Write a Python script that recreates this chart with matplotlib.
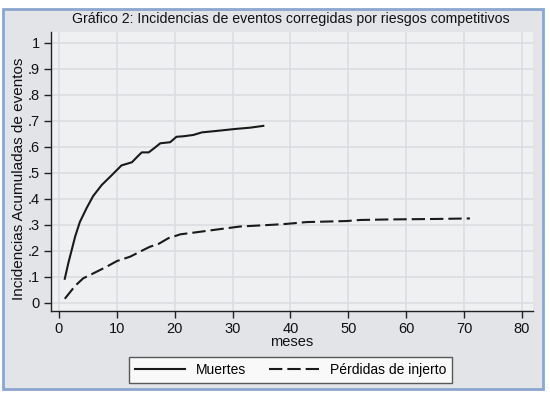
import matplotlib
matplotlib.use('Agg')
import matplotlib.pyplot as plt
from matplotlib.patches import Rectangle

plt.rcParams['font.family'] = ['Liberation Sans', 'DejaVu Sans']

# curvas (meses, incidencia acumulada)
meses_muertes = [1, 1.6, 2.2, 2.8, 3.6, 4.8, 5.9, 7.4, 9.1, 10.8, 12, 12.6, 13.7, 14.3,
                 15.5, 16.5, 17.5, 19.2, 20.3, 21.5, 23.2, 24.7, 27, 30.4, 33, 35.3]
inc_muertes = [0.092, 0.151, 0.203, 0.255, 0.31, 0.365, 0.41, 0.453, 0.49, 0.528, 0.536,
               0.54, 0.565, 0.578, 0.578, 0.595, 0.613, 0.617, 0.638, 0.64, 0.645, 0.655,
               0.66, 0.668, 0.673, 0.68]

meses_perdidas = [1, 2.8, 4.2, 5.6, 8.2, 10, 12.3, 14.6, 15.7, 17.2, 18.9, 21, 23.8, 27.5,
                  31.3, 36.4, 39.3, 42.8, 49.7, 52, 56.6, 65.2, 71]
inc_perdidas = [0.015, 0.065, 0.094, 0.109, 0.138, 0.16, 0.177, 0.203, 0.215, 0.226, 0.248,
                0.263, 0.271, 0.282, 0.293, 0.299, 0.303, 0.31, 0.314, 0.318, 0.32, 0.322,
                0.324]

xticks = list(range(0, 81, 10))
yticks = [i / 10 for i in range(11)]
ytick_labels = ['0', '.1', '.2', '.3', '.4', '.5', '.6', '.7', '.8', '.9', '1']

W, H = 550, 398
fig = plt.figure(figsize=(5.5, 3.98), dpi=100, facecolor='white')

# marco exterior gris con borde azul
marco = Rectangle((3 / W, 1 - 389 / H), 540 / W, 380 / H, transform=fig.transFigure,
                  facecolor='#e2e4e8', edgecolor='#8ca6cf', linewidth=2, zorder=-10)
fig.add_artist(marco)

ax = fig.add_axes([51 / W, 1 - 311 / H, (533 - 51) / W, (311 - 32) / H])
ax.set_facecolor('#eff0f2')

ax.plot(meses_muertes, inc_muertes, color='#1a1a1a', lw=1.5, label='Muertes')
ax.plot(meses_perdidas, inc_perdidas, color='#1a1a1a', lw=1.5, dashes=(6.4, 2.4),
        label='Pérdidas de injerto')

ax.set_xlim(-1.38, 81.9)
ax.set_ylim(-0.032, 1.041)
ax.set_xticks(xticks)
ax.set_yticks(yticks)
ax.set_yticklabels(ytick_labels)
ax.grid(True, color='#dcdde0', lw=1.2)
ax.set_axisbelow(True)
for s in ['top', 'right']:
    ax.spines[s].set_visible(False)
for s in ['left', 'bottom']:
    ax.spines[s].set_color('#222222')
    ax.spines[s].set_linewidth(1.0)
ax.tick_params(direction='out', length=5, width=1, color='#222222',
               labelsize=10.5, labelcolor='#111111', pad=3)

ax.set_xlabel('meses', fontsize=10.5, labelpad=-1, color='#111111')
fig.text(19 / W, 1 - 179 / H, 'Incidencias Acumuladas de eventos', rotation=90,
         ha='center', va='center', fontsize=11, color='#111111')

fig.text(291 / W, 1 - 19 / H, 'Gráfico 2: Incidencias de eventos corregidas por riesgos competitivos',
         ha='center', va='center', fontsize=10.2, color='#111111')

leg = fig.legend(loc='center', bbox_to_anchor=(290.5 / W, 1 - 370 / H), ncol=2, fontsize=10,
                 frameon=True, fancybox=False, handlelength=3.6, columnspacing=1.6,
                 borderpad=0.45, handletextpad=0.8, borderaxespad=0)
leg.get_frame().set_edgecolor('#333333')
leg.get_frame().set_facecolor('white')
leg.get_frame().set_linewidth(1.0)

fig.savefig('out.png', dpi=100, facecolor=fig.get_facecolor())
